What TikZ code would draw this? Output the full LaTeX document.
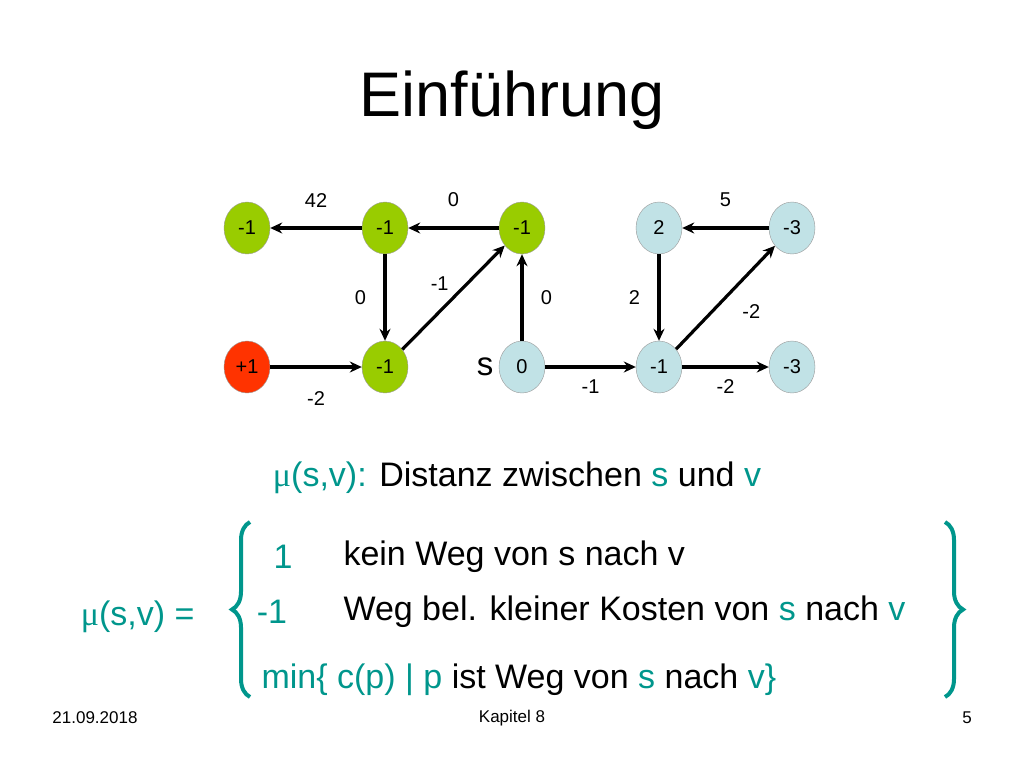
\documentclass[tikz,border=0pt]{standalone}
\usepackage{fontspec}
\setmainfont{Liberation Sans}
\newfontfamily\greekfont{Liberation Serif}
\usetikzlibrary{positioning, shapes.geometric, arrows.meta, decorations.pathreplacing}

\definecolor{vgreen}{RGB}{153,204,0}
\definecolor{vred}{RGB}{255,51,0}
\definecolor{vblue}{RGB}{193,226,230}
\definecolor{teal}{RGB}{0,150,140}
\newcommand{\mymu}{{\greekfont μ}}

\begin{document}
\begin{tikzpicture}[
    x=1pt, y=-1pt,
    >=Stealth,
    % Styles
    vertex/.style={
        ellipse,
        draw=black!40,
        minimum width=46pt,
        minimum height=52pt,
        inner sep=0pt,
        font=\fontsize{20}{22}\selectfont
    },
    arrow/.style={
        -{Stealth[length=12pt,width=11pt]},
        line width=3.2pt
    },
    weight/.style={
        font=\fontsize{20}{22}\selectfont
    },
    body/.style={
        font=\fontsize{34}{36}\selectfont,
        anchor=west
    },
    curly/.style={
        teal,
        line width=4pt,
        decoration={brace, amplitude=18pt}
    }
]
    \useasboundingbox (0,0) rectangle (1024,768);

    % Title
    \node[font=\fontsize{63}{66}\selectfont] (title) at (512,100) {Einführung};

    % Vertices
    \node[vertex, fill=vgreen] (a) at (247,228) {-1};
    \node[vertex, fill=vgreen] (b) at (385,228) {-1};
    \node[vertex, fill=vgreen] (c) at (522,228) {-1};
    \node[vertex, fill=vblue] (d) at (659,228) {2};
    \node[vertex, fill=vblue] (e) at (792,228) {-3};
    \node[vertex, fill=vred] (f) at (247,367) {+1};
    \node[vertex, fill=vgreen] (g) at (385,367) {-1};
    \node[vertex, fill=vblue] (h) at (522,367) {0};
    \node[vertex, fill=vblue] (i) at (659,367) {-1};
    \node[vertex, fill=vblue] (j) at (792,367) {-3};
    \node[font=\fontsize{33}{35}\selectfont, left=2pt of h] (s) {s};

    % Edges
    \draw[arrow] (b) -- node[weight, above=16pt] {42} (a);
    \draw[arrow] (c) -- node[weight, above=16pt] {0} (b);
    \draw[arrow] (e) -- node[weight, above=16pt] {5} (d);
    \draw[arrow] (b) -- node[weight, left=14pt] {0} (g);
    \draw[arrow] (g) -- node[weight, above left=2pt and 0pt] {-1} (c);
    \draw[arrow] (h) -- node[weight, right=14pt] {0} (c);
    \draw[arrow] (d) -- node[weight, left=14pt] {2} (i);
    \draw[arrow] (i) -- node[weight, below right=2pt and 12pt] {-2} (e);
    \draw[arrow] (f) -- node[weight, below=20pt] {-2} (g);
    \draw[arrow] (h) -- node[weight, below=8pt] {-1} (i);
    \draw[arrow] (i) -- node[weight, below=8pt] {-2} (j);

    % Definition
    \node[body, anchor=center] (dist) at (517,478)
        {\textcolor{teal}{\mymu(s,v):} Distanz zwischen \textcolor{teal}{s} und \textcolor{teal}{v}};
    \node[body, anchor=east, teal] (mu) at (198,617) {\mymu(s,v) =};
    \node[body, anchor=center, teal] (inf) at (283,557) {1};
    \node[body, anchor=center, teal] (neg) at (272,612) {-1};
    \node[body] (l1) at (340,557) {kein Weg von s nach v};
    \node[body] (l2) at (340,612)
        {Weg bel. kleiner Kosten von \textcolor{teal}{s} nach \textcolor{teal}{v}};
    \node[body] (l3) at (258,680)
        {\textcolor{teal}{min\{ c(p) | p} ist Weg von \textcolor{teal}{s} nach \textcolor{teal}{v\}}};
    \coordinate (lt) at (250,522);
    \coordinate (lb) at (250,697);
    \coordinate (rt) at (945,522);
    \coordinate (rb) at (945,697);
    \draw[curly, decorate] (lb) -- (lt);
    \draw[curly, decorate] (rt) -- (rb);

    % Footer
    \node[font=\fontsize{17}{19}\selectfont] (date) at (95,718) {21.09.2018};
    \node[font=\fontsize{17}{19}\selectfont] (chap) at (512,718) {Kapitel 8};
    \node[font=\fontsize{17}{19}\selectfont] (page) at (967,718) {5};
\end{tikzpicture}
\end{document}
